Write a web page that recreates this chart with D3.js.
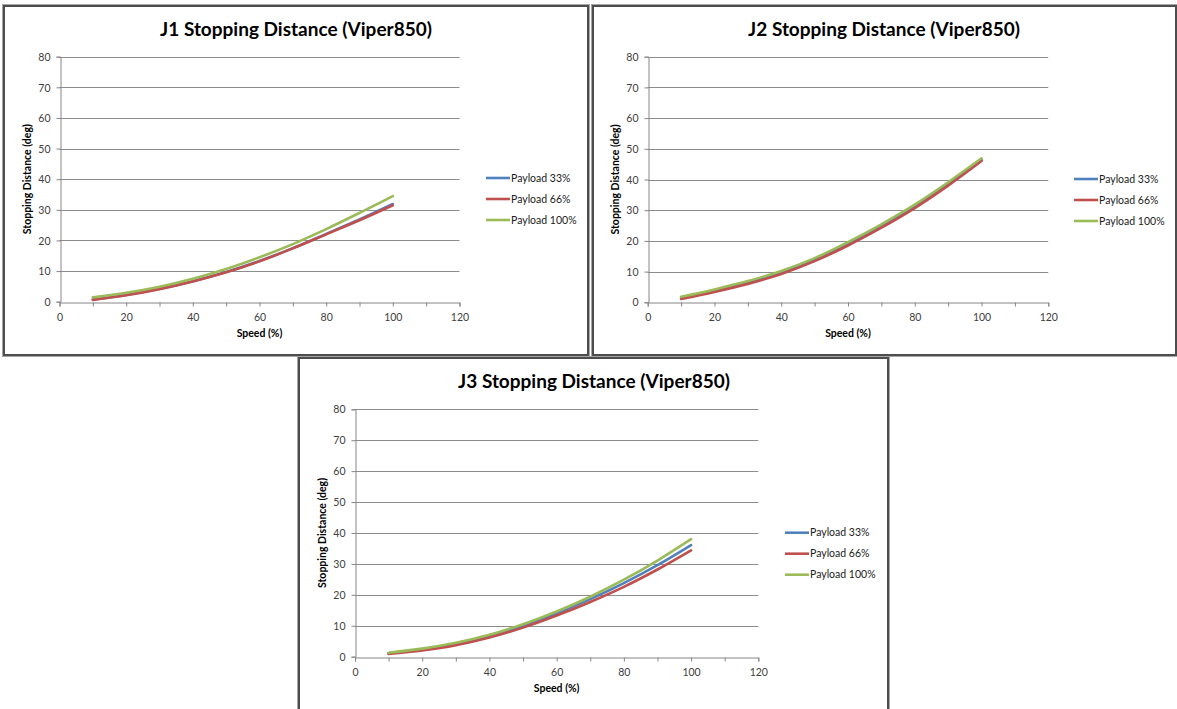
<html>
  <head>
    <meta charset="utf-8">
    <script src="https://d3js.org/d3.v7.min.js"></script>
    <style type="text/css">
      body { margin: 0; background: #fff; }
      svg text { font-family: Lato, "Open Sans", sans-serif; }
    </style>
  </head>
  <body>
    <svg id="chart" width="1177" height="709"></svg>
    <script>
      // data
      var speed = [10, 20, 30, 40, 50, 60, 70, 80, 90, 100];
      var seriesNames = ["Payload 33%", "Payload 66%", "Payload 100%"];
      var colors = ["#4F81BD", "#C0504D", "#9BBB59"];
      var xTicks = [0, 20, 40, 60, 80, 100, 120];
      var yTicks = [0, 10, 20, 30, 40, 50, 60, 70, 80];

      var j1_33  = [0.7, 2.2, 4.2, 6.7, 9.7, 13.3, 17.5, 22.1, 26.9, 31.9];
      var j1_66  = [0.6, 2.1, 4.1, 6.6, 9.6, 13.2, 17.4, 22.0, 26.6, 31.5];
      var j1_100 = [1.4, 2.9, 4.9, 7.5, 10.7, 14.5, 18.8, 23.7, 29.0, 34.5];

      var j2_33  = [1.5, 3.8, 6.5, 9.7, 13.9, 19.0, 24.8, 31.2, 38.5, 46.4];
      var j2_66  = [1.1, 3.4, 6.0, 9.2, 13.4, 18.5, 24.3, 30.7, 38.0, 46.0];
      var j2_100 = [1.8, 4.2, 6.9, 10.2, 14.4, 19.6, 25.4, 31.8, 39.1, 46.9];

      var j3_33  = [1.1, 2.3, 4.1, 6.7, 10.0, 14.0, 18.6, 23.8, 29.6, 36.1];
      var j3_66  = [0.9, 2.0, 3.7, 6.2, 9.4, 13.3, 17.7, 22.6, 28.2, 34.4];
      var j3_100 = [1.3, 2.6, 4.5, 7.1, 10.5, 14.6, 19.4, 24.9, 31.1, 38.0];

      // layout of the three chart boxes
      var panels = [
        { title: "J1 Stopping Distance (Viper850)", series: [j1_33, j1_66, j1_100],
          frame: [4, 6, 584, 349], plot: [59.5, 459.5, 301.7, 56.7], titleX: 296, titleY: 36, legend: [486, 178] },
        { title: "J2 Stopping Distance (Viper850)", series: [j2_33, j2_66, j2_100],
          frame: [593, 6, 583, 349], plot: [647.7, 1048.3, 302.3, 56.7], titleX: 884, titleY: 36, legend: [1074, 179] },
        { title: "J3 Stopping Distance (Viper850)", series: [j3_33, j3_66, j3_100],
          frame: [299, 358, 589, 360], plot: [355, 758.3, 656.7, 409.3], titleX: 594, titleY: 388, legend: [785, 532.7] }
      ];

      var svg = d3.select("#chart");

      panels.forEach(function(p) {
        var g = svg.append("g");
        var f = p.frame;

        // double border like the excel chart area
        g.append("rect")
          .attr("x", f[0] - 1.5).attr("y", f[1] - 1.5)
          .attr("width", f[2] + 3).attr("height", f[3] + 3)
          .attr("fill", "none").attr("stroke", "#a6a6a6").attr("stroke-width", 1);
        g.append("rect")
          .attr("x", f[0]).attr("y", f[1])
          .attr("width", f[2]).attr("height", f[3])
          .attr("fill", "#fff").attr("stroke", "#4d4d4d").attr("stroke-width", 2);

        var x = d3.scaleLinear().domain([0, 120]).range([p.plot[0], p.plot[1]]);
        var y = d3.scaleLinear().domain([0, 80]).range([p.plot[2], p.plot[3]]);

        // gridlines
        g.append("g")
          .selectAll("line")
          .data(yTicks.slice(1))
          .enter().append("line")
          .attr("x1", x(0)).attr("x2", x(120))
          .attr("y1", function(d) { return Math.round(y(d)) + 0.5; })
          .attr("y2", function(d) { return Math.round(y(d)) + 0.5; })
          .attr("stroke", "#8c8c8c").attr("stroke-width", 1);

        // axes
        var xAxis = d3.axisBottom(x)
          .tickValues(d3.range(0, 121, 10))
          .tickSize(4)
          .tickFormat(function(d) { return xTicks.indexOf(d) >= 0 ? d : ""; });
        var gx = g.append("g")
          .attr("transform", "translate(0," + (Math.round(y(0)) + 0.5) + ")")
          .call(xAxis);

        var yAxis = d3.axisLeft(y).tickValues(yTicks).tickSize(4).tickPadding(6);
        var gy = g.append("g")
          .attr("transform", "translate(" + (Math.round(x(0)) + 0.5) + ",0)")
          .call(yAxis);

        [gx, gy].forEach(function(a) {
          a.select(".domain").attr("stroke", "#868686");
          a.selectAll(".tick line").attr("stroke", "#868686");
          a.selectAll(".tick text")
            .attr("fill", "#404040")
            .style("font-size", "10.5px")
            .style("font-family", "Lato, sans-serif");
        });
        gx.selectAll(".tick text").attr("dy", "1.05em");
        gy.selectAll(".tick text").attr("dy", "0.35em");

        // curves
        var line = d3.line()
          .x(function(d, i) { return x(speed[i]); })
          .y(function(d) { return y(d); })
          .curve(d3.curveCatmullRom.alpha(0.5));

        p.series.forEach(function(s, k) {
          g.append("path")
            .attr("d", line(s))
            .attr("fill", "none")
            .attr("stroke", colors[k])
            .attr("stroke-width", 2.6)
            .attr("stroke-linecap", "round");
        });

        // titles
        g.append("text")
          .attr("x", p.titleX).attr("y", p.titleY)
          .attr("text-anchor", "middle")
          .style("font-size", "19px").style("font-weight", "bold")
          .attr("fill", "#000")
          .text(p.title);

        g.append("text")
          .attr("x", (x(0) + x(120)) / 2).attr("y", y(0) + 35)
          .attr("text-anchor", "middle")
          .style("font-size", "10.5px").style("font-weight", "bold")
          .attr("fill", "#000")
          .text("Speed (%)");

        g.append("text")
          .attr("transform", "translate(" + (x(0) - 29) + "," + ((y(0) + y(80)) / 2) + ") rotate(-90)")
          .attr("text-anchor", "middle")
          .style("font-size", "10.5px").style("font-weight", "bold")
          .attr("fill", "#000")
          .text("Stopping Distance (deg)");

        // legend
        var lg = g.append("g").attr("transform", "translate(" + p.legend[0] + "," + p.legend[1] + ")");
        seriesNames.forEach(function(name, k) {
          lg.append("line")
            .attr("x1", 0).attr("x2", 24)
            .attr("y1", k * 21).attr("y2", k * 21)
            .attr("stroke", colors[k]).attr("stroke-width", 2.6);
          lg.append("text")
            .attr("x", 25).attr("y", k * 21).attr("dy", "0.35em")
            .style("font-size", "10.5px")
            .attr("fill", "#1a1a1a")
            .text(name);
        });
      });
    </script>
  </body>
</html>
